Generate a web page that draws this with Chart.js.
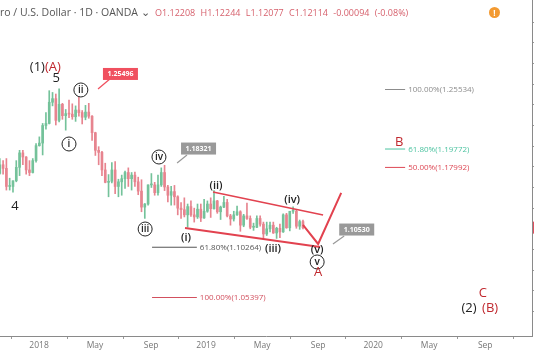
<!DOCTYPE html>
<html>
<head>
<meta charset="UTF-8">
<script src="https://cdn.jsdelivr.net/npm/chart.js"></script>
<style>
  body { margin: 0; background: #fff; }
  #wrap { position: relative; width: 534px; height: 354px; }
  #head { position: absolute; left: 0; top: 5px; font: 10.5px "Open Sans", sans-serif; color: #555; white-space: nowrap; }
  #ohlc { position: absolute; left: 155px; top: 6px; font: 9px "Open Sans", sans-serif; color: #d6616d; white-space: nowrap; word-spacing: 3px; }
  #warn { position: absolute; left: 489px; top: 7px; width: 11px; height: 11px; border-radius: 50%; background: #f39a31; color: #fff; font: bold 8px "Open Sans", sans-serif; text-align: center; line-height: 11px; }
</style>
</head>
<body>
<div id="wrap">
  <canvas id="c" width="534" height="354"></canvas>
  <div id="head">ro / U.S. Dollar · 1D · OANDA ⌄</div>
  <div id="ohlc">O1.12208 H1.12244 L1.12077 C1.12114 -0.00094 (-0.08%)</div>
  <div id="warn">!</div>
</div>
<script>
// weekly candles, Oct 2017 .. Jul 2019
const opens = [1.1735,1.1820,1.1785,1.1610,1.1610,1.1665,1.1795,1.1935,1.1895,1.1770,1.1745,1.1860,1.2005,1.2030,1.2200,1.2220,1.2425,1.2460,1.2250,1.2405,1.2295,1.2315,1.2310,1.2285,1.2350,1.2325,1.2280,1.2330,1.2290,1.2130,1.1960,1.1940,1.1770,1.1650,1.1660,1.1770,1.1610,1.1655,1.1685,1.1745,1.1685,1.1720,1.1655,1.1565,1.1410,1.1440,1.1625,1.1625,1.1550,1.1625,1.1745,1.1605,1.1525,1.1560,1.1510,1.1400,1.1385,1.1335,1.1415,1.1335,1.1315,1.1390,1.1305,1.1370,1.1440,1.1395,1.1470,1.1365,1.1410,1.1455,1.1325,1.1295,1.1335,1.1365,1.1235,1.1325,1.1300,1.1215,1.1215,1.1300,1.1245,1.1150,1.1200,1.1235,1.1160,1.1205,1.1170,1.1335,1.1210,1.1370,1.1370,1.1225,1.1270];
const highs = [1.1880,1.1860,1.1880,1.1690,1.1665,1.1860,1.1960,1.1960,1.1900,1.1860,1.1880,1.2025,1.2090,1.2220,1.2325,1.2537,1.2520,1.2505,1.2555,1.2415,1.2355,1.2445,1.2410,1.2390,1.2475,1.2345,1.2395,1.2415,1.2295,1.2135,1.1995,1.1950,1.1835,1.1725,1.1840,1.1852,1.1680,1.1720,1.1760,1.1790,1.1745,1.1750,1.1700,1.1675,1.1445,1.1625,1.1735,1.1650,1.1720,1.1790,1.1815,1.1620,1.1610,1.1620,1.1520,1.1455,1.1500,1.1440,1.1470,1.1400,1.1440,1.1440,1.1485,1.1470,1.1500,1.1570,1.1475,1.1420,1.1515,1.1485,1.1340,1.1370,1.1420,1.1375,1.1340,1.1448,1.1325,1.1255,1.1325,1.1325,1.1265,1.1265,1.1265,1.1265,1.1215,1.1245,1.1345,1.1350,1.1365,1.1412,1.1380,1.1285,1.1285];
const lows = [1.1730,1.1730,1.1575,1.1575,1.1554,1.1655,1.1715,1.1820,1.1730,1.1715,1.1740,1.1845,1.2000,1.1915,1.2165,1.2215,1.2390,1.2205,1.2235,1.2260,1.2155,1.2275,1.2260,1.2240,1.2290,1.2215,1.2255,1.2270,1.2055,1.1910,1.1820,1.1715,1.1645,1.1510,1.1645,1.1540,1.1510,1.1525,1.1590,1.1610,1.1575,1.1610,1.1530,1.1365,1.1301,1.1430,1.1600,1.1525,1.1525,1.1610,1.1570,1.1460,1.1430,1.1430,1.1335,1.1300,1.1315,1.1216,1.1320,1.1265,1.1300,1.1270,1.1300,1.1360,1.1310,1.1390,1.1350,1.1290,1.1405,1.1315,1.1235,1.1275,1.1330,1.1176,1.1220,1.1290,1.1200,1.1185,1.1210,1.1225,1.1110,1.1135,1.1170,1.1155,1.1107,1.1115,1.1165,1.1205,1.1180,1.1350,1.1205,1.1195,1.1200];
const closes = [1.1820,1.1785,1.1610,1.1610,1.1665,1.1795,1.1935,1.1895,1.1770,1.1745,1.1860,1.2005,1.2030,1.2200,1.2220,1.2425,1.2460,1.2250,1.2405,1.2295,1.2315,1.2310,1.2285,1.2350,1.2325,1.2280,1.2330,1.2290,1.2130,1.1960,1.1940,1.1770,1.1650,1.1660,1.1770,1.1610,1.1655,1.1685,1.1745,1.1685,1.1720,1.1655,1.1565,1.1410,1.1440,1.1625,1.1625,1.1550,1.1625,1.1745,1.1605,1.1525,1.1560,1.1510,1.1400,1.1385,1.1335,1.1415,1.1335,1.1315,1.1390,1.1305,1.1370,1.1440,1.1395,1.1470,1.1365,1.1410,1.1455,1.1325,1.1295,1.1335,1.1365,1.1235,1.1325,1.1300,1.1215,1.1215,1.1300,1.1245,1.1150,1.1200,1.1235,1.1160,1.1205,1.1170,1.1335,1.1210,1.1370,1.1370,1.1225,1.1270,1.12114];

// time axis labels (positions in week index)
const tickLabels = ['2018','May','Sep','2019','May','Sep','2020','May','Sep'];
const tickWeeks = [11.9, 28.9, 45.9, 62.6, 79.6, 96.6, 113.3, 130.3, 147.3];

// drawn tools: [week, price]
const upperChannel = [[64.7, 1.1556], [98.1, 1.1334]];
const lowerChannel = [[56.2, 1.1208], [97.2, 1.1024]];
const projection = [[92.0, 1.1237], [96.6, 1.1053], [103.6, 1.1547]];

const fibs = [
  { from: 116.9, to: 123.0, price: 1.25534, text: '100.00%(1.25534)', color: '#8c8c8c' },
  { from: 116.9, to: 123.0, price: 1.19772, text: '61.80%(1.19772)', color: '#4cc3a0' },
  { from: 116.9, to: 123.0, price: 1.17992, text: '50.00%(1.17992)', color: '#dd4855' },
  { from: 46.2, to: 59.8, price: 1.10264, text: '61.80%(1.10264)', color: '#555555' },
  { from: 46.2, to: 59.8, price: 1.05397, text: '100.00%(1.05397)', color: '#d2505e' }
];

const priceTags = [
  { x: 31.3, y: 1.2699, text: '1.25496', bg: '#f0505f', from: [33.4, 1.2650], to: [29.8, 1.2553] },
  { x: 55.0, y: 1.1977, text: '1.18321', bg: '#999999', from: [56.8, 1.1914], to: [53.8, 1.1837] },
  { x: 103.0, y: 1.1193, text: '1.10530', bg: '#999999', from: [104.5, 1.1130], to: [101.1, 1.1053] }
];

const RED = '#c0282e';
const waveLabels = [
  { t: '(1)', x: 13.7, y: 1.2766, c: '#222', align: 'right', big: true },
  { t: '(A)', x: 13.7, y: 1.2766, c: RED, align: 'left', big: true },
  { t: '5', x: 17.1, y: 1.2660, c: '#222', big: true },
  { t: '4', x: 4.6, y: 1.1421, c: '#222', big: true },
  { t: 'ii', x: 24.6, y: 1.2544, circle: true },
  { t: 'i', x: 21.0, y: 1.2021, circle: true },
  { t: 'iv', x: 48.3, y: 1.1895, circle: true },
  { t: 'iii', x: 44.1, y: 1.1198, circle: true },
  { t: '(ii)', x: 65.6, y: 1.1614, c: '#222' },
  { t: '(i)', x: 56.5, y: 1.1111, c: '#222' },
  { t: '(iii)', x: 82.9, y: 1.1005, c: '#222' },
  { t: '(iv)', x: 88.7, y: 1.1479, c: '#222' },
  { t: '(v)', x: 96.3, y: 1.0995, c: '#222' },
  { t: 'v', x: 96.3, y: 1.0879, circle: true },
  { t: 'A', x: 96.6, y: 1.0782, c: RED, big: true },
  { t: 'B', x: 121.2, y: 1.2040, c: RED, big: true },
  { t: 'C', x: 146.6, y: 1.0579, c: RED, big: true },
  { t: '(2)', x: 142.4, y: 1.0433, c: '#222', big: true },
  { t: '(B)', x: 148.8, y: 1.0433, c: RED, big: true }
];

const UP = '#74c29a', DOWN = '#e7848f';
const candleColor = closes.map((c, i) => c >= opens[i] ? UP : DOWN);
const wickData = closes.map((c, i) => ({ x: i, y: [lows[i], highs[i]] }));
const bodyData = closes.map((c, i) => ({ x: i, y: [Math.min(opens[i], c), Math.max(opens[i], c)] }));
const pts = arr => arr.map(p => ({ x: p[0], y: p[1] }));

const drawings = {
  id: 'drawings',
  afterDatasetsDraw(chart) {
    const ctx = chart.ctx, xs = chart.scales.x, ys = chart.scales.y;
    const X = v => xs.getPixelForValue(v), Y = v => ys.getPixelForValue(v);
    ctx.save();
    ctx.textBaseline = 'middle';

    fibs.forEach(f => {
      ctx.strokeStyle = f.color; ctx.lineWidth = 1;
      ctx.beginPath(); ctx.moveTo(X(f.from), Y(f.price) + 0.5); ctx.lineTo(X(f.to), Y(f.price) + 0.5); ctx.stroke();
      ctx.fillStyle = f.color; ctx.font = '8px "Open Sans", sans-serif'; ctx.textAlign = 'left';
      ctx.fillText(f.text, X(f.to) + 3, Y(f.price) + 1);
    });

    priceTags.forEach(p => {
      ctx.strokeStyle = p.bg; ctx.lineWidth = 1.2;
      ctx.beginPath(); ctx.moveTo(X(p.from[0]), Y(p.from[1])); ctx.lineTo(X(p.to[0]), Y(p.to[1])); ctx.stroke();
      const bx = X(p.x), by = Y(p.y);
      ctx.fillStyle = p.bg; ctx.fillRect(bx, by - 6, 35, 12);
      ctx.fillStyle = '#fff'; ctx.font = 'bold 7px "Open Sans", sans-serif'; ctx.textAlign = 'center';
      ctx.fillText(p.text, bx + 17.5, by + 0.5);
    });

    waveLabels.forEach(l => {
      const x = X(l.x), y = Y(l.y);
      if (l.circle) {
        ctx.strokeStyle = '#222'; ctx.lineWidth = 1;
        ctx.beginPath(); ctx.arc(x, y, 7, 0, Math.PI * 2); ctx.stroke();
        ctx.fillStyle = '#222'; ctx.font = '600 10px "Open Sans", sans-serif'; ctx.textAlign = 'center';
        ctx.fillText(l.t, x, y);
      } else {
        ctx.fillStyle = l.c;
        ctx.font = l.big ? '13px "Open Sans", sans-serif' : '600 11px "Open Sans", sans-serif';
        ctx.textAlign = l.align || 'center';
        ctx.fillText(l.t, x, y);
      }
    });

    // last price marker on the price scale
    ctx.fillStyle = '#e0505e';
    ctx.fillRect(chart.chartArea.right + 1, Y(closes[closes.length - 1]) - 6, 4, 12);
    ctx.restore();
  }
};

new Chart(document.getElementById('c'), {
  type: 'bar',
  data: {
    datasets: [
      { type: 'line', data: pts(upperChannel), borderColor: '#e2424f', borderWidth: 1.5, pointRadius: 0, order: 0 },
      { type: 'line', data: pts(lowerChannel), borderColor: '#e2424f', borderWidth: 2, pointRadius: 0, order: 0 },
      { type: 'line', data: pts(projection), borderColor: '#e2424f', borderWidth: 2, pointRadius: 0, order: 0 },
      { data: bodyData, backgroundColor: candleColor, barThickness: 2, minBarLength: 1, grouped: false, order: 1 },
      { data: wickData, backgroundColor: candleColor, barThickness: 1, grouped: false, order: 2 }
    ]
  },
  options: {
    responsive: false,
    animation: false,
    events: [],
    layout: { padding: 0 },
    plugins: { legend: { display: false }, tooltip: { enabled: false } },
    scales: {
      x: {
        type: 'linear', offset: false, min: 0.06, max: 161.5,
        grid: { display: true, drawOnChartArea: false, tickLength: 3, color: '#999' },
        border: { display: true, color: '#8a8a8a' },
        afterBuildTicks: axis => { axis.ticks = tickWeeks.map(v => ({ value: v })); },
        afterFit: axis => { axis.height = 18; },
        ticks: {
          padding: 1, autoSkip: false, maxRotation: 0, color: '#777',
          font: { family: 'Open Sans', size: 8.5 },
          callback: (v, i) => tickLabels[i]
        }
      },
      y: {
        position: 'right', min: 1.01623, max: 1.3415,
        grid: { display: true, drawOnChartArea: false, tickLength: 3, color: '#999' },
        border: { display: true, color: '#8a8a8a' },
        afterBuildTicks: axis => {
          axis.ticks = axis.ticks.filter(t => Math.abs(t.value * 50 - Math.round(t.value * 50)) < 1e-6);
        },
        afterFit: axis => { axis.width = 2; },
        ticks: { display: false, stepSize: 0.02 }
      }
    }
  },
  plugins: [drawings]
});
</script>
</body>
</html>
